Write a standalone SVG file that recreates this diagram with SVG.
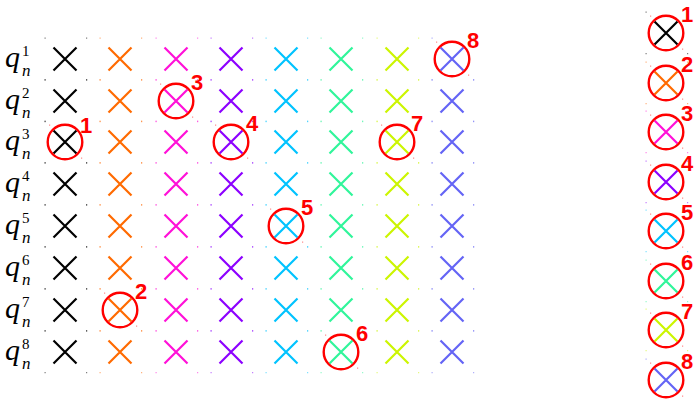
<svg xmlns="http://www.w3.org/2000/svg" xmlns:xlink="http://www.w3.org/1999/xlink" width="695" height="400" viewBox="0 0 695 400">
<style>
.c1{stroke:#000;fill:#000}
.c2{stroke:#ff6a00;fill:#ff6a00}
.c3{stroke:#ff10d8;fill:#ff10d8}
.c4{stroke:#8c00ff;fill:#8c00ff}
.c5{stroke:#00c3ff;fill:#00c3ff}
.c6{stroke:#30f59a;fill:#30f59a}
.c7{stroke:#ccf500;fill:#ccf500}
.c8{stroke:#6464f5;fill:#6464f5}
.ring{fill:none;stroke:#ff0000;stroke-width:2.4}
.num{font-family:"Liberation Sans",Arial,sans-serif;font-weight:bold;font-size:22px;fill:#ff0000}
.q{font-family:"Liberation Serif","Times New Roman",serif;font-style:italic;font-size:30px;fill:#000}
.sub{font-family:"Liberation Serif","Times New Roman",serif;font-style:italic;font-size:17px;fill:#000}
.sup{font-family:"Liberation Serif","Times New Roman",serif;font-size:15px;fill:#000}
</style>
<defs>
<g id="x">
<path d="M-11.5,-11.5L11.5,11.5M-11.5,11.5L11.5,-11.5" stroke-width="2.2" fill="none"/>
<path d="M-20.5,-21.5h1.2v1.2h-1.2zM21,-21.5h1.2v1.2h-1.2zM-20.5,20h1.2v1.2h-1.2zM21,20h1.2v1.2h-1.2z" stroke="none" opacity="0.5"/>
</g>
<g id="o">
<circle r="17.3" class="ring"/>
<path d="M-16,-17.5h1.2v1.2h-1.2zM16,15.5h1.2v1.2h-1.2z" fill="#ff0000" stroke="none" opacity="0.45"/>
</g>
</defs>

<g id="labels">
<g id="label1"><text class="q" x="5" y="67">q</text><text class="sup" x="22" y="56">1</text><text class="sub" x="22" y="76">n</text></g>
<g id="label2"><text class="q" x="5" y="109">q</text><text class="sup" x="22" y="98">2</text><text class="sub" x="22" y="118">n</text></g>
<g id="label3"><text class="q" x="5" y="150">q</text><text class="sup" x="22" y="139">3</text><text class="sub" x="22" y="159">n</text></g>
<g id="label4"><text class="q" x="5" y="192">q</text><text class="sup" x="22" y="181">4</text><text class="sub" x="22" y="201">n</text></g>
<g id="label5"><text class="q" x="5" y="234">q</text><text class="sup" x="22" y="223">5</text><text class="sub" x="22" y="243">n</text></g>
<g id="label6"><text class="q" x="5" y="276">q</text><text class="sup" x="22" y="265">6</text><text class="sub" x="22" y="285">n</text></g>
<g id="label7"><text class="q" x="5" y="318">q</text><text class="sup" x="22" y="307">7</text><text class="sub" x="22" y="327">n</text></g>
<g id="label8"><text class="q" x="5" y="360">q</text><text class="sup" x="22" y="349">8</text><text class="sub" x="22" y="369">n</text></g>
</g>

<g id="grid">
<g id="row1">
<use href="#x" class="c1" x="65" y="59"/><use href="#x" class="c2" x="120" y="59"/><use href="#x" class="c3" x="176" y="59"/><use href="#x" class="c4" x="231" y="59"/><use href="#x" class="c5" x="286" y="59"/><use href="#x" class="c6" x="341" y="59"/><use href="#x" class="c7" x="397" y="59"/><use href="#x" class="c8" x="452" y="59"/>
</g>
<g id="row2">
<use href="#x" class="c1" x="65" y="101"/><use href="#x" class="c2" x="120" y="101"/><use href="#x" class="c3" x="176" y="101"/><use href="#x" class="c4" x="231" y="101"/><use href="#x" class="c5" x="286" y="101"/><use href="#x" class="c6" x="341" y="101"/><use href="#x" class="c7" x="397" y="101"/><use href="#x" class="c8" x="452" y="101"/>
</g>
<g id="row3">
<use href="#x" class="c1" x="65" y="142"/><use href="#x" class="c2" x="120" y="142"/><use href="#x" class="c3" x="176" y="142"/><use href="#x" class="c4" x="231" y="142"/><use href="#x" class="c5" x="286" y="142"/><use href="#x" class="c6" x="341" y="142"/><use href="#x" class="c7" x="397" y="142"/><use href="#x" class="c8" x="452" y="142"/>
</g>
<g id="row4">
<use href="#x" class="c1" x="65" y="184"/><use href="#x" class="c2" x="120" y="184"/><use href="#x" class="c3" x="176" y="184"/><use href="#x" class="c4" x="231" y="184"/><use href="#x" class="c5" x="286" y="184"/><use href="#x" class="c6" x="341" y="184"/><use href="#x" class="c7" x="397" y="184"/><use href="#x" class="c8" x="452" y="184"/>
</g>
<g id="row5">
<use href="#x" class="c1" x="65" y="226"/><use href="#x" class="c2" x="120" y="226"/><use href="#x" class="c3" x="176" y="226"/><use href="#x" class="c4" x="231" y="226"/><use href="#x" class="c5" x="286" y="226"/><use href="#x" class="c6" x="341" y="226"/><use href="#x" class="c7" x="397" y="226"/><use href="#x" class="c8" x="452" y="226"/>
</g>
<g id="row6">
<use href="#x" class="c1" x="65" y="268"/><use href="#x" class="c2" x="120" y="268"/><use href="#x" class="c3" x="176" y="268"/><use href="#x" class="c4" x="231" y="268"/><use href="#x" class="c5" x="286" y="268"/><use href="#x" class="c6" x="341" y="268"/><use href="#x" class="c7" x="397" y="268"/><use href="#x" class="c8" x="452" y="268"/>
</g>
<g id="row7">
<use href="#x" class="c1" x="65" y="310"/><use href="#x" class="c2" x="120" y="310"/><use href="#x" class="c3" x="176" y="310"/><use href="#x" class="c4" x="231" y="310"/><use href="#x" class="c5" x="286" y="310"/><use href="#x" class="c6" x="341" y="310"/><use href="#x" class="c7" x="397" y="310"/><use href="#x" class="c8" x="452" y="310"/>
</g>
<g id="row8">
<use href="#x" class="c1" x="65" y="352"/><use href="#x" class="c2" x="120" y="352"/><use href="#x" class="c3" x="176" y="352"/><use href="#x" class="c4" x="231" y="352"/><use href="#x" class="c5" x="286" y="352"/><use href="#x" class="c6" x="341" y="352"/><use href="#x" class="c7" x="397" y="352"/><use href="#x" class="c8" x="452" y="352"/>
</g>
</g>

<g id="marks">
<g id="mark1"><use href="#o" x="65" y="142"/><text class="num" x="80" y="133">1</text></g>
<g id="mark2"><use href="#o" x="120" y="310"/><text class="num" x="135" y="299">2</text></g>
<g id="mark3"><use href="#o" x="176" y="101"/><text class="num" x="191" y="90">3</text></g>
<g id="mark4"><use href="#o" x="231" y="142"/><text class="num" x="246" y="131">4</text></g>
<g id="mark5"><use href="#o" x="286" y="226"/><text class="num" x="301" y="215">5</text></g>
<g id="mark6"><use href="#o" x="341" y="352"/><text class="num" x="356" y="341">6</text></g>
<g id="mark7"><use href="#o" x="397" y="142"/><text class="num" x="411" y="131">7</text></g>
<g id="mark8"><use href="#o" x="452" y="59"/><text class="num" x="467" y="48">8</text></g>
</g>

<g id="legend">
<g id="legend1"><use href="#x" class="c1" x="666" y="33"/><use href="#o" x="666" y="33"/><text class="num" x="681" y="22">1</text></g>
<g id="legend2"><use href="#x" class="c2" x="666" y="83"/><use href="#o" x="666" y="83"/><text class="num" x="681" y="72">2</text></g>
<g id="legend3"><use href="#x" class="c3" x="666" y="132"/><use href="#o" x="666" y="132"/><text class="num" x="681" y="121">3</text></g>
<g id="legend4"><use href="#x" class="c4" x="666" y="182"/><use href="#o" x="666" y="182"/><text class="num" x="681" y="171">4</text></g>
<g id="legend5"><use href="#x" class="c5" x="666" y="231"/><use href="#o" x="666" y="231"/><text class="num" x="681" y="220">5</text></g>
<g id="legend6"><use href="#x" class="c6" x="666" y="281"/><use href="#o" x="666" y="281"/><text class="num" x="681" y="270">6</text></g>
<g id="legend7"><use href="#x" class="c7" x="666" y="330"/><use href="#o" x="666" y="330"/><text class="num" x="681" y="319">7</text></g>
<g id="legend8"><use href="#x" class="c8" x="666" y="380"/><use href="#o" x="666" y="380"/><text class="num" x="681" y="369">8</text></g>
</g>
</svg>
